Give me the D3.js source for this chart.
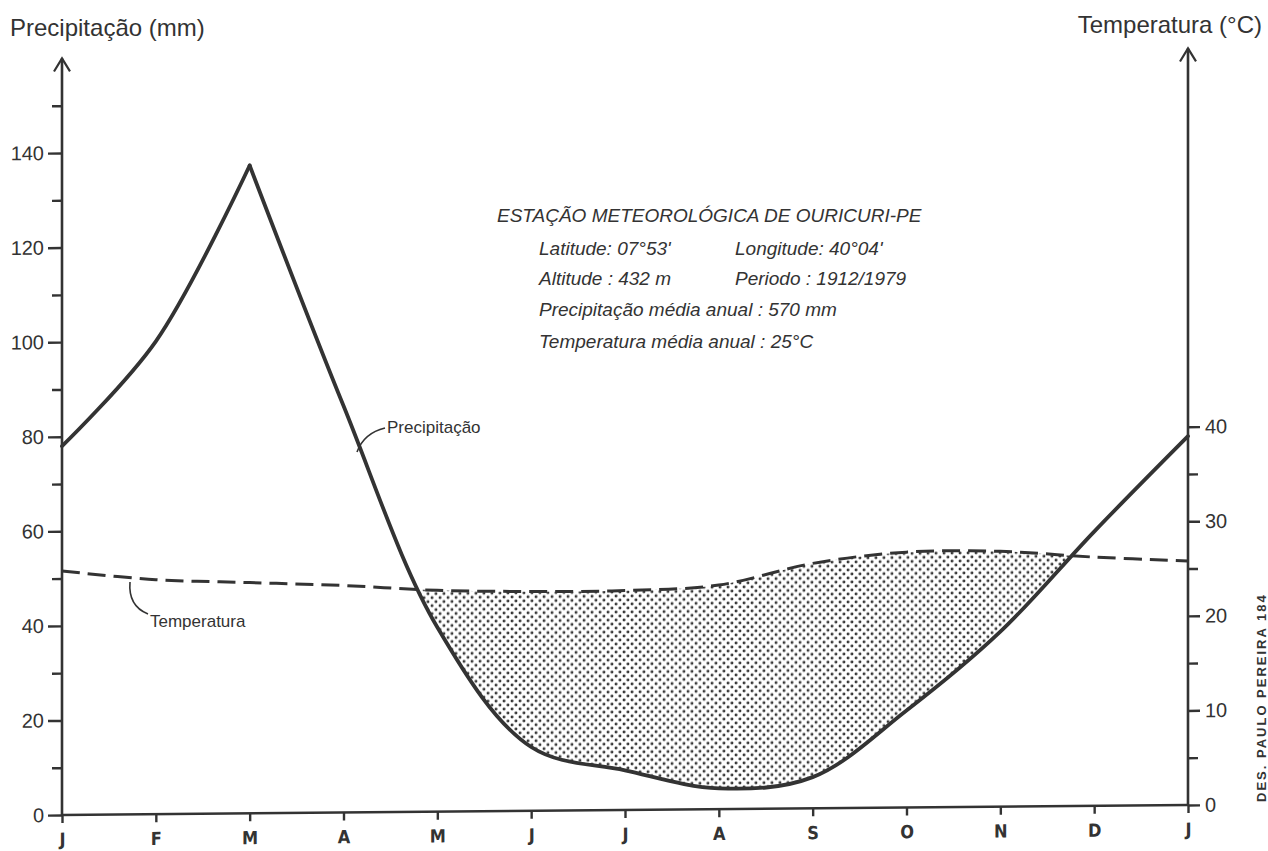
<!DOCTYPE html>
<html>
<head>
<meta charset="utf-8">
<script src="https://cdn.jsdelivr.net/npm/d3@7"></script>
<style>
  body { margin: 0; background: #fff; }
  svg text { fill: #333; }
</style>
</head>
<body>
<script>
// month labels at each tick (the last J closes the year)
const months = ["J", "F", "M", "A", "M", "J", "J", "A", "S", "O", "N", "D", "J"]
// precipitation in mm, read at each month tick
const precipitacao = [78, 100, 137, 86, 39, 13.5, 8.4, 4.4, 6.6, 20.5, 37, 58, 78]
// temperature in degrees C, read at each month tick
const temperatura = [25.8, 24.8, 24.4, 24.0, 23.4, 23.2, 23.2, 23.7, 25.9, 27.0, 27.0, 26.3, 25.8]

const precipTicks = [0, 20, 40, 60, 80, 100, 120, 140]
const precipMinor = [10, 30, 50, 70, 90, 110, 130, 150]
const tempTicks = [0, 10, 20, 30, 40]
const tempMinor = [5, 15, 25, 35]

const infoLines = [
  "ESTAÇÃO  METEOROLÓGICA  DE  OURICURI-PE",
  "Latitude: 07°53'",
  "Longitude: 40°04'",
  "Altitude : 432 m",
  "Periodo : 1912/1979",
  "Precipitação média anual : 570 mm",
  "Temperatura média anual : 25°C"
]

const w = 1268
const h = 851
const ink = "#333"
const x0 = 62
const y0 = 815
const plotW = 1126
const plotH = 662
// the drawing's baseline rises about 10px from left to right
const tilt = Math.atan(-10 / plotW) * 180 / Math.PI

const svg = d3.select("body")
  .append("svg")
  .attr("width", w)
  .attr("height", h)

const defs = svg.append("defs")
const pat = defs.append("pattern")
  .attr("id", "dots")
  .attr("patternUnits", "userSpaceOnUse")
  .attr("width", 8)
  .attr("height", 8)
pat.append("circle").attr("cx", 2).attr("cy", 2).attr("r", 1.45).attr("fill", "#333")
pat.append("circle").attr("cx", 6).attr("cy", 6).attr("r", 1.45).attr("fill", "#333")

const xScale = d3.scaleLinear().domain([0, 12]).range([0, plotW])
const yP = d3.scaleLinear().domain([0, 140]).range([0, -plotH])
const yT = d3.scaleLinear().domain([0, 70]).range([0, -plotH])

const curve = d3.curveCatmullRom.alpha(0.5)

// the rain curve is drawn as two smooth runs meeting at the peak month
const peak = d3.maxIndex(precipitacao)
const rise = precipitacao.map((v, i) => [i, v]).slice(0, peak + 1)
const fall = precipitacao.map((v, i) => [i, v]).slice(peak)

const g = svg.append("g")
  .attr("transform", "translate(" + x0 + "," + y0 + ") skewY(" + tilt + ")")

// dry period: below temperature, above precipitation
defs.append("clipPath")
  .attr("id", "abovePrecip")
  .append("path")
  .attr("d", d3.area()
    .x(d => xScale(d[0]))
    .y0(-plotH - 200)
    .y1(d => yP(d[1]))
    .curve(curve)(fall))

g.append("path")
  .attr("clip-path", "url(#abovePrecip)")
  .attr("fill", "url(#dots)")
  .attr("d", d3.area()
    .x((d, i) => xScale(i))
    .y0(0)
    .y1(d => yT(d))
    .curve(curve)(temperatura))

// axes
const styleAxis = (sel) => {
  sel.select(".domain").remove()
  sel.selectAll(".tick line").attr("stroke", ink).attr("stroke-width", 2.4)
  sel.selectAll(".tick text")
    .attr("fill", ink)
    .style("font-family", "'Liberation Sans', Arial, sans-serif")
    .style("font-size", "20px")
}

g.append("g")
  .call(d3.axisLeft(yP).tickValues(precipTicks).tickSize(14).tickPadding(4))
  .call(styleAxis)
g.append("g")
  .call(d3.axisLeft(yP).tickValues(precipMinor).tickSize(10).tickFormat(""))
  .call(styleAxis)

g.append("g")
  .attr("transform", "translate(" + plotW + ",0)")
  .call(d3.axisRight(yT).tickValues(tempTicks).tickSize(12).tickPadding(5))
  .call(styleAxis)
g.append("g")
  .attr("transform", "translate(" + plotW + ",0)")
  .call(d3.axisRight(yT).tickValues(tempMinor).tickSize(10).tickFormat(""))
  .call(styleAxis)

const xAxis = g.append("g")
  .call(d3.axisBottom(xScale).tickValues(d3.range(months.length)).tickSize(8).tickPadding(10)
    .tickFormat(i => months[i]))
  .call(styleAxis)
xAxis.selectAll(".tick text")
  .style("font-family", "'Liberation Sans Narrow', 'DejaVu Sans Condensed', 'Liberation Sans', sans-serif")
  .style("font-weight", "bold")
  .style("font-size", "18px")

// axis lines with open arrow heads
const axisTop = yP(160)
const lines = [
  [0, 0, 0, axisTop],
  [plotW, 0, plotW, axisTop],
  [0, 0, plotW, 0]
]
g.selectAll(".axisline")
  .data(lines)
  .enter()
  .append("line")
  .attr("class", "axisline")
  .attr("x1", d => d[0]).attr("y1", d => d[1])
  .attr("x2", d => d[2]).attr("y2", d => d[3])
  .attr("stroke", ink)
  .attr("stroke-width", 2.6)

g.selectAll(".arrow")
  .data([0, plotW])
  .enter()
  .append("path")
  .attr("class", "arrow")
  .attr("d", d => "M" + (d - 8) + "," + (axisTop + 13) + "L" + d + "," + axisTop + "L" + (d + 8) + "," + (axisTop + 13))
  .attr("fill", "none")
  .attr("stroke", ink)
  .attr("stroke-width", 2.2)

// temperature (dashed) and precipitation lines
g.append("path")
  .attr("d", d3.line()
    .x((d, i) => xScale(i))
    .y(d => yT(d))
    .curve(curve)(temperatura))
  .attr("fill", "none")
  .attr("stroke", ink)
  .attr("stroke-width", 3)
  .attr("stroke-dasharray", "18,8")

const precipLine = d3.line()
  .x(d => xScale(d[0]))
  .y(d => yP(d[1]))
  .curve(curve)

g.selectAll(".precip")
  .data([rise, fall])
  .enter()
  .append("path")
  .attr("class", "precip")
  .attr("d", d => precipLine(d))
  .attr("fill", "none")
  .attr("stroke", ink)
  .attr("stroke-width", 3.8)
  .attr("stroke-linecap", "round")
  .attr("stroke-linejoin", "round")

// titles
const sans = "'Liberation Sans', Arial, sans-serif"
svg.append("text")
  .attr("x", 10)
  .attr("y", 36)
  .style("font-family", sans)
  .style("font-size", "24px")
  .text("Precipitação (mm)")

svg.append("text")
  .attr("x", 1262)
  .attr("y", 33)
  .style("font-family", sans)
  .style("font-size", "24px")
  .style("text-anchor", "end")
  .text("Temperatura (°C)")

// station info block
const info = [
  [infoLines[0], 497, 222],
  [infoLines[1], 539, 255],
  [infoLines[2], 735, 255],
  [infoLines[3], 539, 285],
  [infoLines[4], 735, 285],
  [infoLines[5], 539, 316],
  [infoLines[6], 539, 348]
]
svg.selectAll(".info")
  .data(info)
  .enter()
  .append("text")
  .attr("class", "info")
  .attr("x", d => d[1])
  .attr("y", d => d[2])
  .style("font-family", sans)
  .style("font-style", "italic")
  .style("font-size", "19px")
  .text(d => d[0])

// curve labels with leader lines
svg.append("text")
  .attr("x", 387)
  .attr("y", 433)
  .style("font-family", sans)
  .style("font-size", "17px")
  .text("Precipitação")
svg.append("path")
  .attr("d", "M357,452 Q364,433 385,428")
  .attr("fill", "none")
  .attr("stroke", ink)
  .attr("stroke-width", 1.6)

svg.append("text")
  .attr("x", 150)
  .attr("y", 627)
  .style("font-family", sans)
  .style("font-size", "17px")
  .text("Temperatura")
svg.append("path")
  .attr("d", "M130,582 Q128,606 148,614")
  .attr("fill", "none")
  .attr("stroke", ink)
  .attr("stroke-width", 1.6)

// draughtsman credit along the right edge
svg.append("text")
  .attr("transform", "translate(1266,802) rotate(-90)")
  .style("font-family", sans)
  .style("font-weight", "bold")
  .style("font-size", "13px")
  .style("letter-spacing", "2px")
  .text("DES. PAULO PEREIRA 184")
</script>
</body>
</html>
